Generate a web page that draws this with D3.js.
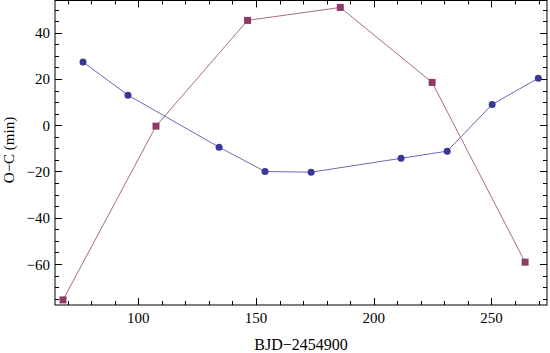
<!DOCTYPE html>
<html><head><meta charset="utf-8">
<script src="https://cdn.jsdelivr.net/npm/d3@7"></script>
<style>body{margin:0;background:#fff;} svg{display:block;}</style>
</head><body>
<svg id="c" width="550" height="353"></svg>
<script>
const blueX = [76.5, 95.6, 134.3, 153.8, 173.4, 211.6, 231.2, 250.3, 269.9];
const blueY = [27.3, 13.0, -9.5, -20.0, -20.3, -14.3, -11.2, 9.0, 20.3];
const redX = [68.0, 107.5, 146.4, 185.8, 224.8, 264.3];
const redY = [-75.5, -0.4, 45.3, 50.9, 18.5, -59.2];
const xTicks = [100, 150, 200, 250];
const yTicks = [-60, -40, -20, 0, 20, 40];
const xLabel = "BJD\u22122454900";
const yLabel = "O\u2212C (min)";

const svg = d3.select("#c");
const L = 55, R = 547, T = 0.5, B = 305;
const x = d3.scaleLinear().domain([64.6, 273.6]).range([L, R]);
const y = d3.scaleLinear().domain([-77.7, 53.9]).range([B, T]);
const font = "Liberation Serif, Times New Roman, serif";

const xMinor = d3.range(70, 271, 10).filter(v => !xTicks.includes(v));
const yMinor = d3.range(-75, 54, 5).filter(v => !yTicks.includes(v));

const g = svg.append("g");
g.append("rect").attr("x", L).attr("y", T).attr("width", R - L).attr("height", B - T)
  .attr("fill", "none").attr("stroke", "#000").attr("stroke-width", 1);

function ticks(vals, len) {
  vals.forEach(v => {
    const px = Math.round(x(v)) + 0.5;
    g.append("line").attr("x1", px).attr("x2", px).attr("y1", B).attr("y2", B - len).attr("stroke", "#000");
    g.append("line").attr("x1", px).attr("x2", px).attr("y1", T).attr("y2", T + len).attr("stroke", "#000");
  });
}
function yticks(vals, len) {
  vals.forEach(v => {
    const py = Math.round(y(v)) + 0.5;
    g.append("line").attr("y1", py).attr("y2", py).attr("x1", L).attr("x2", L + len).attr("stroke", "#000");
    g.append("line").attr("y1", py).attr("y2", py).attr("x1", R).attr("x2", R - len).attr("stroke", "#000");
  });
}
ticks(xTicks, 7); ticks(xMinor, 4);
yticks(yTicks, 7); yticks(yMinor, 4);

xTicks.forEach(v => g.append("text").attr("x", x(v)).attr("y", 323).attr("text-anchor", "middle")
  .attr("font-family", font).attr("font-size", 15).text(v));
yTicks.forEach(v => g.append("text").attr("x", 50).attr("y", y(v) + 5.5).attr("text-anchor", "end")
  .attr("font-family", font).attr("font-size", 15).text(v < 0 ? "\u2212" + Math.abs(v) : v));

g.append("text").attr("x", 301).attr("y", 350).attr("text-anchor", "middle")
  .attr("font-family", font).attr("font-size", 16).text(xLabel);
g.append("text").attr("transform", "translate(14,150) rotate(-90)").attr("text-anchor", "middle")
  .attr("font-family", font).attr("font-size", 15).text(yLabel);

svg.append("clipPath").attr("id", "cp").append("rect")
  .attr("x", L).attr("y", T).attr("width", R - L).attr("height", B - T);
const pg = svg.append("g").attr("clip-path", "url(#cp)");

const blue = blueX.map((v, i) => [v, blueY[i]]);
const red = redX.map((v, i) => [v, redY[i]]);
const line = d3.line().x(d => x(d[0])).y(d => y(d[1]));

pg.append("path").attr("d", line(red)).attr("fill", "none").attr("stroke", "#a86a8c").attr("stroke-width", 1);
pg.append("path").attr("d", line(blue)).attr("fill", "none").attr("stroke", "#6a6aae").attr("stroke-width", 1);

pg.selectAll("circle").data(blue).enter().append("circle")
  .attr("cx", d => x(d[0])).attr("cy", d => y(d[1])).attr("r", 3.5).attr("fill", "#38389a");
pg.selectAll("rect.sq").data(red).enter().append("rect").attr("class", "sq")
  .attr("x", d => x(d[0]) - 3.5).attr("y", d => y(d[1]) - 3.5).attr("width", 7).attr("height", 7)
  .attr("fill", "#8e3a66");
</script>
</body></html>
